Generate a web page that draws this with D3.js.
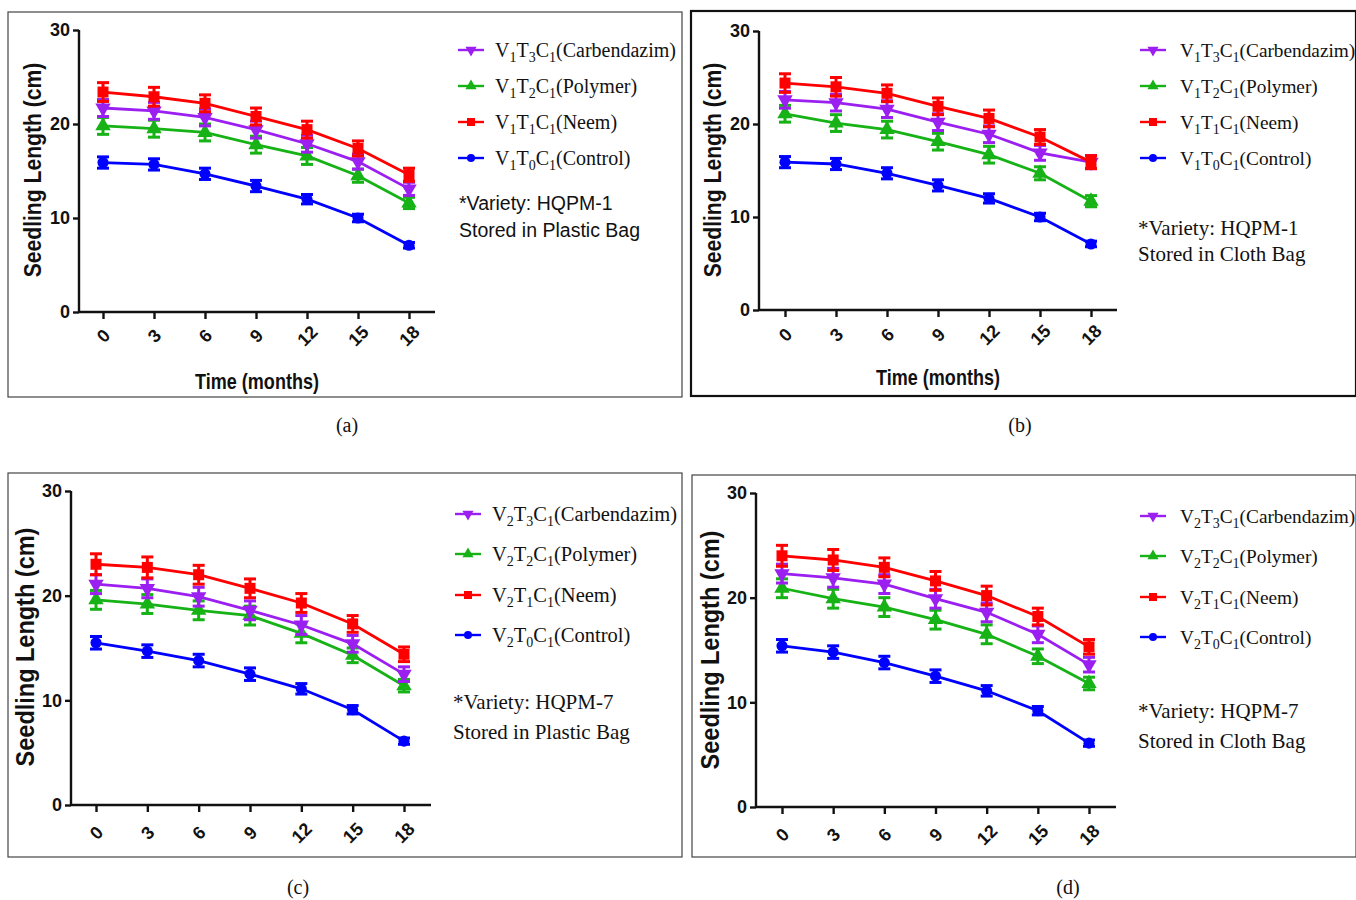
<!DOCTYPE html>
<html><head><meta charset="utf-8">
<script src="https://cdn.jsdelivr.net/npm/d3@7"></script>
<style>body{margin:0;background:#fff}svg{display:block}</style>
</head><body>
<svg id="c" width="1356" height="900"></svg>
<script>
// ---- data ----
const months = [0, 3, 6, 9, 12, 15, 18];
const yTicks = [0, 10, 20, 30];
const seriesNames = ["Carbendazim", "Polymer", "Neem", "Control"];
const treatIdx = ["3", "2", "1", "0"];
const seriesColors = ["#9b1ff0", "#16b216", "#ff0000", "#0000ff"];
const seriesSymbols = ["triDown", "tri", "square", "circle"];

// panel (a) HQPM-1 plastic
const aCarb = [21.7, 21.4, 20.7, 19.4, 17.9, 16.0, 13.1];
const aPoly = [19.8, 19.5, 19.1, 17.8, 16.6, 14.5, 11.6];
const aNeem = [23.4, 22.9, 22.2, 20.8, 19.4, 17.4, 14.6];
const aCtrl = [15.9, 15.7, 14.7, 13.4, 12.0, 10.0, 7.1];
// panel (b) HQPM-1 cloth
const bCarb = [22.6, 22.3, 21.6, 20.2, 18.9, 16.9, 15.9];
const bPoly = [21.1, 20.1, 19.4, 18.1, 16.7, 14.7, 11.7];
const bNeem = [24.4, 24.0, 23.3, 21.9, 20.6, 18.6, 15.9];
const bCtrl = [15.9, 15.7, 14.7, 13.4, 12.0, 10.0, 7.1];
// panel (c) HQPM-7 plastic
const cCarb = [21.1, 20.7, 19.9, 18.6, 17.2, 15.4, 12.5];
const cPoly = [19.6, 19.2, 18.6, 18.1, 16.4, 14.3, 11.4];
const cNeem = [23.0, 22.7, 22.0, 20.7, 19.3, 17.3, 14.4];
const cCtrl = [15.5, 14.7, 13.8, 12.5, 11.1, 9.1, 6.1];
// panel (d) HQPM-7 cloth
const dCarb = [22.3, 21.9, 21.3, 19.9, 18.6, 16.5, 13.6];
const dPoly = [20.9, 19.9, 19.1, 17.9, 16.5, 14.4, 11.8];
const dNeem = [24.0, 23.6, 22.9, 21.6, 20.2, 18.2, 15.3];
const dCtrl = [15.4, 14.8, 13.8, 12.5, 11.1, 9.2, 6.1];

// error (±) per series
const errCarb = [0.9, 0.9, 0.9, 0.9, 0.9, 0.8, 0.7];
const errPoly = [0.9, 0.9, 0.9, 0.9, 0.9, 0.7, 0.6];
const errNeem = [1.0, 1.0, 0.9, 0.9, 0.9, 0.8, 0.7];
const errCtrl = [0.6, 0.6, 0.6, 0.6, 0.5, 0.4, 0.3];

const varietyNotes = ["*Variety: HQPM-1", "*Variety: HQPM-1", "*Variety: HQPM-7", "*Variety: HQPM-7"];
const storageNotes = ["Stored in Plastic Bag", "Stored in Cloth Bag", "Stored in Plastic Bag", "Stored in Cloth Bag"];
const varietyNum = ["1", "1", "2", "2"];
const captions = ["(a)", "(b)", "(c)", "(d)"];
const yTitle = "Seedling Length (cm)";
const xTitle = "Time (months)";

const panelData = [
  [aCarb, aPoly, aNeem, aCtrl],
  [bCarb, bPoly, bNeem, bCtrl],
  [cCarb, cPoly, cNeem, cCtrl],
  [dCarb, dPoly, dNeem, dCtrl]
];
const errs = [errCarb, errPoly, errNeem, errCtrl];

// ---- layout ----
const panels = [
  {box:[8,12,682,397], bw:1.2, yAx:79, y30:30, y0:312, xEnd:435, x0:103, x18:409, tlY:24, xT:[257,381], yT:[33,170], yTs:24, ySc:0.88, lgM:458, lgT:495, lgF:20, rows:[50,86,122,158], notes:[203,230], noteSans:true, cap:[347,425]},
  {box:[691,11,1356,396], bw:2.2, yAx:759, y30:31, y0:310, xEnd:1117, x0:785, x18:1091, tlY:25, xT:[938,377], yT:[713,170], yTs:24, ySc:0.88, lgM:1140, lgT:1180, lgF:19.3, rows:[50,86,122,158], notes:[228,254], noteSans:false, cap:[1020,425]},
  {box:[8,473,682,857], bw:1.2, yAx:71, y30:491, y0:805, xEnd:431, x0:96, x18:404, tlY:28, xT:null, yT:[25,647], yTs:25, ySc:0.94, lgM:455, lgT:492, lgF:20.5, rows:[514,554,595,635], notes:[702,732], noteSans:false, cap:[298,887]},
  {box:[692,475,1356,857], bw:1.2, yAx:756, y30:493, y0:807, xEnd:1116, x0:782, x18:1089, tlY:28, xT:null, yT:[710,650], yTs:25, ySc:0.94, lgM:1140, lgT:1180, lgF:19.3, rows:[516,556,597,637], notes:[711,741], noteSans:false, cap:[1068,887]}
];

const svg = d3.select("#c");
const sans = "'Liberation Sans', Arial, sans-serif";
const serif = "'Liberation Serif', 'Times New Roman', serif";

function symbolPath(type, s) {
  if (type === "square") return d3.symbol(d3.symbolSquare, s*s)();
  if (type === "circle") return d3.symbol(d3.symbolCircle, s*s*0.8)();
  return d3.symbol(d3.symbolTriangle, s*s*0.85)();
}

panels.forEach((p, pi) => {
  const g = svg.append("g");
  // frame
  g.append("rect").attr("x", p.box[0]).attr("y", p.box[1])
    .attr("width", p.box[2]-p.box[0]).attr("height", p.box[3]-p.box[1])
    .attr("fill", "none").attr("stroke", pi===1 ? "#111" : "#444").attr("stroke-width", p.bw);

  const x = d3.scalePoint().domain(months).range([p.x0, p.x18]);
  const y = d3.scaleLinear().domain([0, 30]).range([p.y0, p.y30]);

  // axes
  const ya = g.append("g").attr("transform", `translate(${p.yAx},0)`)
    .call(d3.axisLeft(y).tickValues(yTicks).tickSize(6).tickPadding(3));
  ya.select(".domain").attr("d", `M-0,${p.y0}V${p.y30}`);
  const xa = g.append("g").attr("transform", `translate(0,${p.y0})`)
    .call(d3.axisBottom(x).tickSize(7).tickFormat(d=>d));
  xa.select(".domain").attr("d", `M${p.yAx},0H${p.xEnd}`);
  [ya, xa].forEach(a => {
    a.selectAll(".domain, line").attr("stroke", "#111").attr("stroke-width", 2.4);
    a.selectAll("text").attr("fill", "#111").attr("font-family", sans).attr("font-weight", "bold").attr("font-size", 18);
  });
  xa.selectAll("text").attr("y", 0).attr("dy", 0)
    .attr("text-anchor", "middle").attr("dominant-baseline", "central")
    .attr("transform", `translate(0,${p.tlY}) rotate(-45)`);

  // titles
  g.append("text").attr("transform", `translate(${p.yT[0]},${p.yT[1]}) rotate(-90) scale(${p.ySc},1)`)
    .attr("text-anchor", "middle").attr("dominant-baseline", "central")
    .attr("font-family", sans).attr("font-weight", "bold").attr("font-size", p.yTs).attr("fill", "#111")
    .text(yTitle);
  if (p.xT) {
    g.append("text").attr("transform", `translate(${p.xT[0]},${p.xT[1]}) scale(0.82,1)`).attr("text-anchor", "middle")
      .attr("dominant-baseline", "central")
      .attr("font-family", sans).attr("font-weight", "bold").attr("font-size", 22).attr("fill", "#111")
      .text(xTitle);
  }

  // series (draw order so red is on top)
  const order = [3, 1, 0, 2];
  order.forEach(si => {
    const vals = panelData[pi][si];
    const pts = months.map((m, i) => ({m, v: vals[i], e: errs[si][i]}));
    const col = seriesColors[si];
    const sg = g.append("g");
    sg.append("path").datum(pts)
      .attr("d", d3.line().x(d => x(d.m)).y(d => y(d.v)))
      .attr("fill", "none").attr("stroke", col).attr("stroke-width", 2.8);
    const eb = sg.selectAll(".eb").data(pts).enter().append("g");
    eb.append("line").attr("x1", d=>x(d.m)).attr("x2", d=>x(d.m))
      .attr("y1", d=>y(d.v-d.e)).attr("y2", d=>y(d.v+d.e)).attr("stroke", col).attr("stroke-width", 3);
    eb.append("line").attr("x1", d=>x(d.m)-6).attr("x2", d=>x(d.m)+6)
      .attr("y1", d=>y(d.v+d.e)).attr("y2", d=>y(d.v+d.e)).attr("stroke", col).attr("stroke-width", 3);
    eb.append("line").attr("x1", d=>x(d.m)-6).attr("x2", d=>x(d.m)+6)
      .attr("y1", d=>y(d.v-d.e)).attr("y2", d=>y(d.v-d.e)).attr("stroke", col).attr("stroke-width", 3);
    sg.selectAll(".mk").data(pts).enter().append("path")
      .attr("d", symbolPath(seriesSymbols[si], 11))
      .attr("transform", d => `translate(${x(d.m)},${y(d.v)})` + (seriesSymbols[si]==="triDown" ? " rotate(180)" : ""))
      .attr("fill", col);
  });

  // legend
  const lg = g.append("g");
  seriesNames.forEach((nm, si) => {
    const ry = p.rows[si];
    const col = seriesColors[si];
    lg.append("line").attr("x1", p.lgM).attr("x2", p.lgM+26).attr("y1", ry).attr("y2", ry)
      .attr("stroke", col).attr("stroke-width", 2.4);
    lg.append("path").attr("d", symbolPath(seriesSymbols[si], 8))
      .attr("transform", `translate(${p.lgM+13},${ry})` + (seriesSymbols[si]==="triDown" ? " rotate(180)" : ""))
      .attr("fill", col);
    const t = lg.append("text").attr("x", p.lgT).attr("y", ry+7)
      .attr("font-family", serif).attr("font-size", p.lgF).attr("fill", "#111");
    const parts = [["V",0],[varietyNum[pi],1],["T",0],[treatIdx[si],1],["C",0],["1",1],["("+nm+")",0]];
    let sub = false;
    parts.forEach(([s, isSub]) => {
      const ts = t.append("tspan").text(s);
      if (isSub && !sub) { ts.attr("dy", 5).attr("font-size", 14); sub = true; }
      else if (isSub) { ts.attr("font-size", 14); }
      else if (!isSub && sub) { ts.attr("dy", -5); sub = false; }
    });
  });
  [varietyNotes[pi], storageNotes[pi]].forEach((s, k) => {
    lg.append("text").attr("x", p.lgM + (pi===0 ? 1 : -2)).attr("y", p.notes[k]).attr("dominant-baseline", "central")
      .attr("font-family", p.noteSans ? sans : serif).attr("font-size", p.noteSans ? 19.5 : 21).attr("fill", "#111")
      .text(s);
  });

  // caption
  svg.append("text").attr("x", p.cap[0]).attr("y", p.cap[1]).attr("text-anchor", "middle")
    .attr("dominant-baseline", "central").attr("font-family", serif).attr("font-size", 20).attr("fill", "#111")
    .text(captions[pi]);
});
</script>
</body></html>
